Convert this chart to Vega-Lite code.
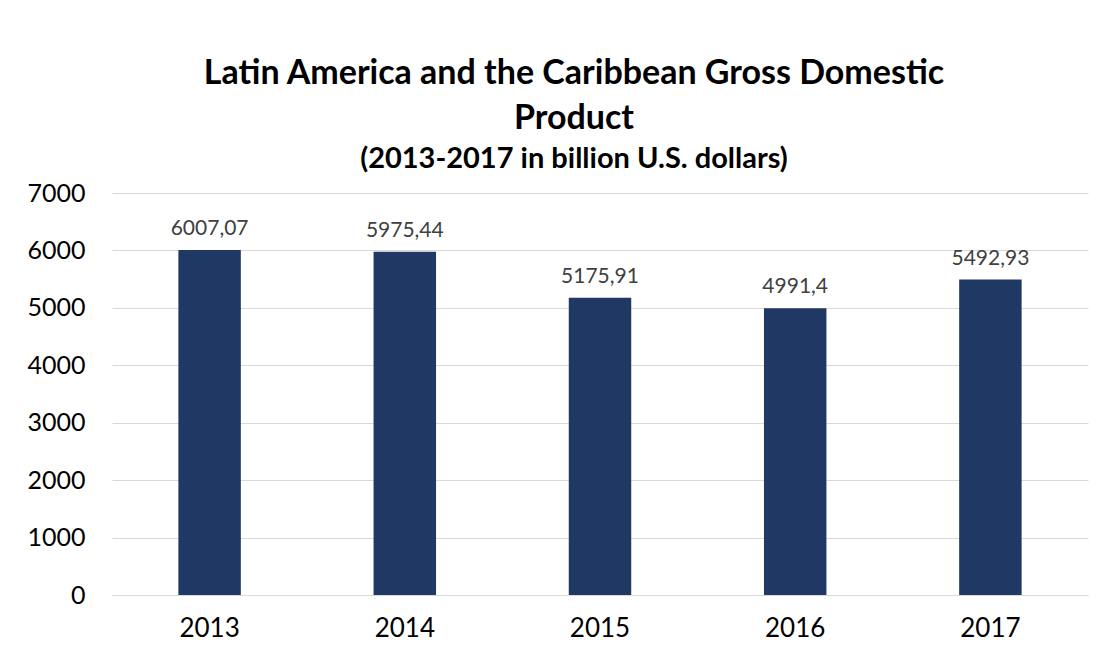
{
  "$schema": "https://vega.github.io/schema/vega-lite/v6.json",
  "width": 976,
  "height": 402,
  "autosize": "none",
  "padding": {"left": 112, "top": 193, "right": 22, "bottom": 67},
  "background": "white",
  "config": {
    "view": {"stroke": null},
    "font": "Lato",
    "locale": {"number": {"decimal": ",", "thousands": "", "grouping": [3], "currency": ["", ""]}}
  },
  "title": {
    "text": ["Latin America and the Caribbean Gross Domestic", "Product"],
    "subtitle": "(2013-2017 in billion U.S. dollars)",
    "anchor": "middle",
    "dx": -26,
    "offset": 7,
    "font": "Lato",
    "fontSize": 34,
    "fontWeight": "bold",
    "lineHeight": 45,
    "color": "#000000",
    "subtitleFont": "Lato",
    "subtitleFontSize": 29,
    "subtitleFontWeight": "bold",
    "subtitleColor": "#000000",
    "subtitlePadding": 9
  },
  "data": {
    "values": [
      {"year": "2013", "gdp": 6007.07},
      {"year": "2014", "gdp": 5975.44},
      {"year": "2015", "gdp": 5175.91},
      {"year": "2016", "gdp": 4991.4},
      {"year": "2017", "gdp": 5492.93}
    ]
  },
  "encoding": {
    "x": {
      "field": "year",
      "type": "nominal",
      "scale": {"paddingInner": 0.68, "paddingOuter": 0.34},
      "axis": {
        "title": null,
        "labelAngle": 0,
        "labelFontSize": 26,
        "labelColor": "#000000",
        "labelFont": "Lato",
        "ticks": false,
        "domain": true,
        "domainColor": "#d9d9d9",
        "labelPadding": 20
      }
    },
    "y": {
      "field": "gdp",
      "type": "quantitative",
      "scale": {"domain": [0, 7000]},
      "axis": {
        "title": null,
        "values": [0, 1000, 2000, 3000, 4000, 5000, 6000, 7000],
        "format": "d",
        "labelFontSize": 25,
        "labelColor": "#000000",
        "labelFont": "Lato",
        "ticks": false,
        "domain": false,
        "gridColor": "#d9d9d9",
        "labelPadding": 27
      }
    }
  },
  "layer": [
    {"mark": {"type": "bar", "color": "#203864"}},
    {
      "mark": {"type": "text", "baseline": "bottom", "dy": -11, "fontSize": 21, "color": "#404040", "font": "Lato"},
      "encoding": {"text": {"field": "gdp", "type": "quantitative", "format": ".6~g"}}
    }
  ]
}
